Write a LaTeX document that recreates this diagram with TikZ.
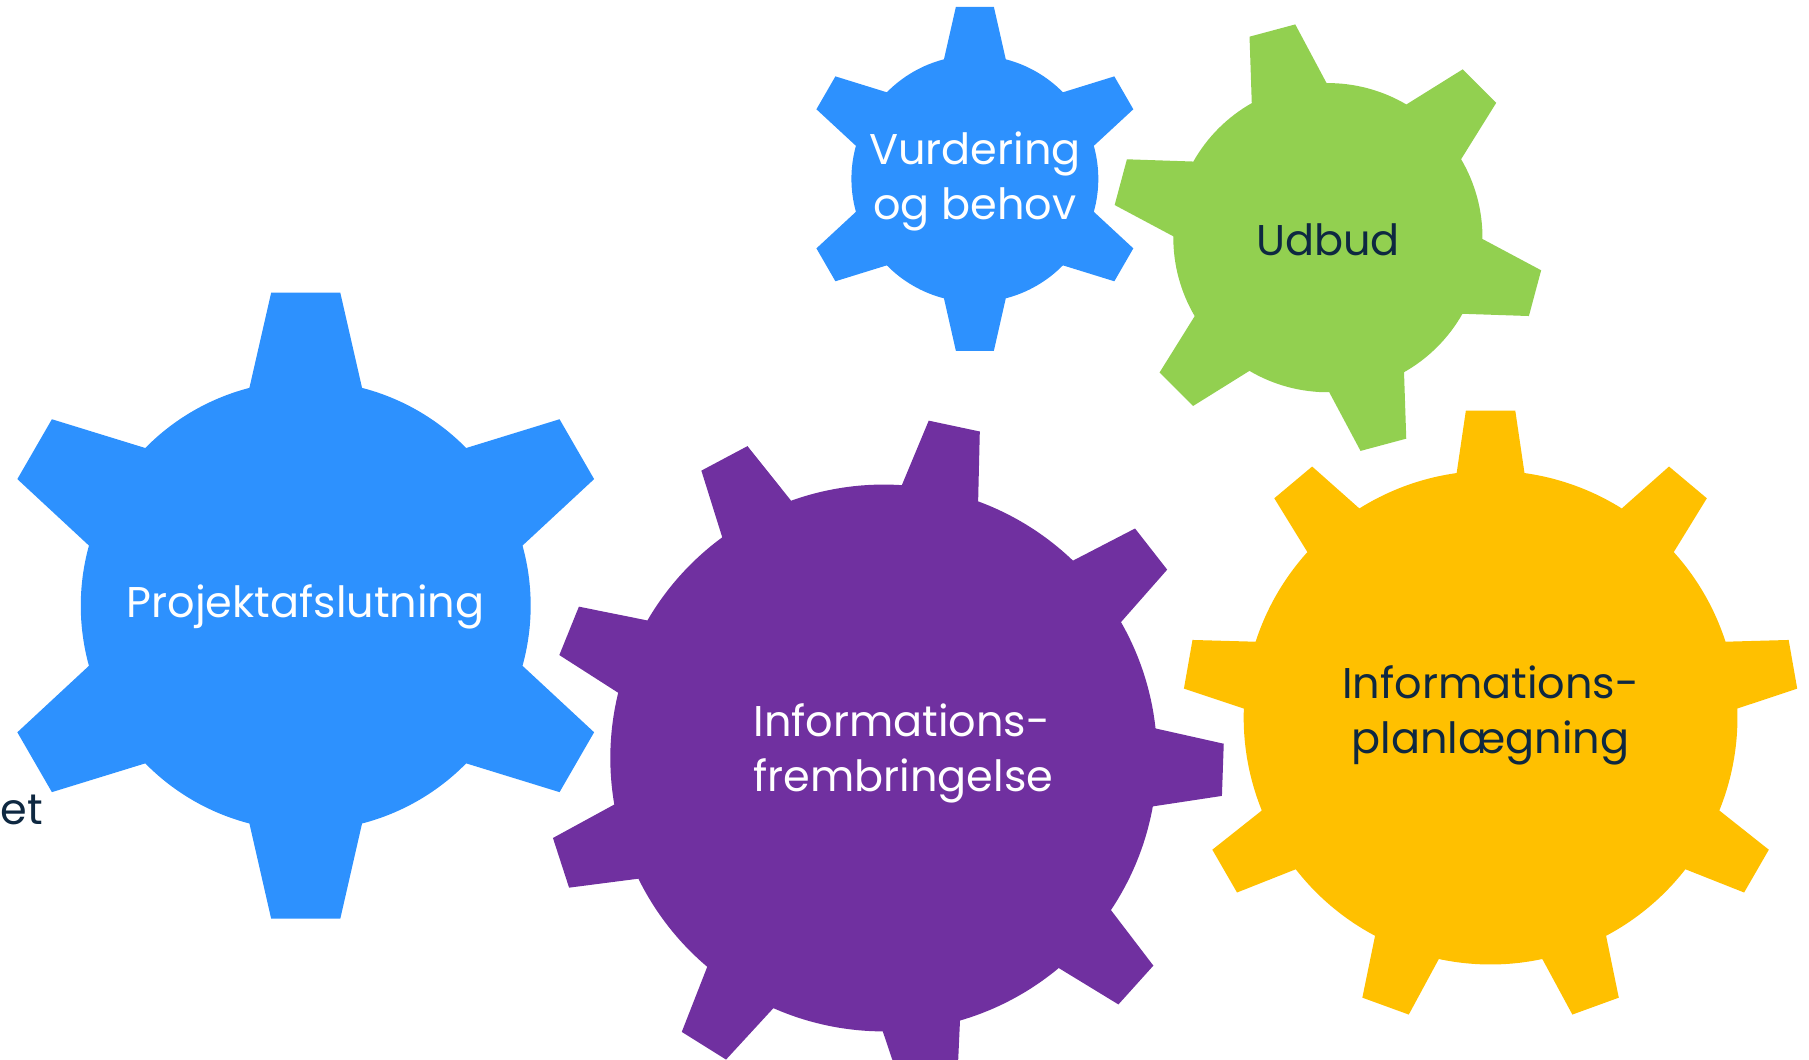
\documentclass[tikz,border=0pt]{standalone}
\usepackage{fontspec}
\setmainfont{Poppins}
\definecolor{gearblue}{HTML}{2D91FE}
\definecolor{geargreen}{HTML}{92D050}
\definecolor{gearpurple}{HTML}{7030A0}
\definecolor{gearyellow}{HTML}{FFC000}
\definecolor{navytext}{HTML}{0E2841}

% center, teeth, tip radius, body radius, tip half angle, base half angle, first tooth, colour
\newcommand{\gear}[8]{%
  \begin{scope}[shift={(#1)}]
    \fill[#8] (#7-#6:#4)
      \foreach \k [evaluate=\k as \a using #7+(\k-1)*360/#2] in {1,...,#2}{
        -- (\a-#5:#3) -- (\a+#5:#3) -- (\a+#6:#4)
        arc[start angle=\a+#6, end angle=\a+360/#2-#6, radius=#4]
      } -- cycle;
  \end{scope}}

\begin{document}
\begin{tikzpicture}[
    x=0.01cm, y=0.01cm,
    lbl/.style={
      font=\fontsize{10.6}{13.5}\selectfont,
      align=center,
      inner sep=0pt,
    },
  ]
  \useasboundingbox (0,0) rectangle (1568,-918);
  \clip (0,0) rectangle (1568,-918);

  \gear{845,-155}{6}{150}{107}{6.3}{14.5}{30}{gearblue}
  \gear{1151,-206}{6}{187}{134}{6.3}{14.5}{-15}{geargreen}
  \gear{265,-525}{6}{273}{195}{6.3}{14.5}{30}{gearblue}
  \gear{766,-657}{9}{295}{237}{4.4}{8.2}{-2}{gearpurple}
  \gear{1292,-622}{9}{267}{214}{4.6}{7.9}{90}{gearyellow}

  \node[lbl, white] (vurdering) at (845,-157) {Vurdering\\og behov};
  \node[lbl, navytext] (udbud) at (1151,-208) {Udbud};
  \node[lbl, white] (afslutning) at (265,-526) {Projektafslutning};
  \node[lbl, white, align=left] (frembringelse) at (783,-653) {Informations-\\frembringelse};
  \node[lbl, navytext] (planlaegning) at (1292,-620) {Informations-\\planlægning};
  \node[lbl, navytext, anchor=west] (rest) at (0,-702) {et};
\end{tikzpicture}
\end{document}
